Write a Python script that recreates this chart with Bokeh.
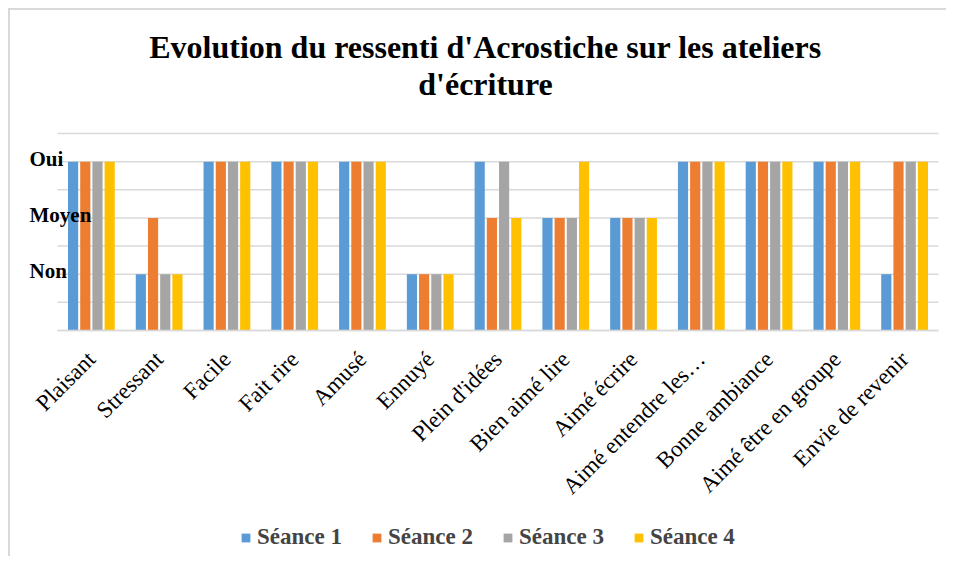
import numpy as np
from bokeh.plotting import figure
from bokeh.models import (ColumnDataSource, Range1d, FixedTicker, Legend, LegendItem, Label, LabelSet)
from bokeh.transform import dodge
from bokeh.embed import file_html
from bokeh.resources import INLINE

categories = ["Plaisant", "Stressant", "Facile", "Fait rire", "Amusé", "Ennuyé",
              "Plein d'idées", "Bien aimé lire", "Aimé écrire", "Aimé entendre les…",
              "Bonne ambiance", "Aimé être en groupe", "Envie de revenir"]
# 1 = Non, 2 = Moyen, 3 = Oui
seance1 = [3, 1, 3, 3, 3, 1, 3, 2, 2, 3, 3, 3, 1]
seance2 = [3, 2, 3, 3, 3, 1, 2, 2, 2, 3, 3, 3, 3]
seance3 = [3, 1, 3, 3, 3, 1, 3, 2, 2, 3, 3, 3, 3]
seance4 = [3, 1, 3, 3, 3, 1, 2, 3, 2, 3, 3, 3, 3]
series_names = ["Séance 1", "Séance 2", "Séance 3", "Séance 4"]
level_values = [1, 2, 3]
level_labels = ["Non", "Moyen", "Oui"]
grid_ticks = [0, 0.5, 1, 1.5, 2, 2.5, 3, 3.5]
title_lines = ["Evolution du ressenti d'Acrostiche sur les ateliers", "d'écriture"]

colors = ["#5B9BD5", "#ED7D31", "#A5A5A5", "#FFC000"]
offsets = [-0.27, -0.09, 0.09, 0.27]
SERIF = "Liberation Serif"

W, H = 938, 548
# plot-area geometry in canvas pixels (the whole canvas is the frame)
PLOT_L, PLOT_R, PLOT_T, PLOT_B = 47, 928, 123, 320
n = len(categories)
ymax = grid_ticks[-1]
ux = (PLOT_R - PLOT_L) / n            # px per category
uy = (PLOT_B - PLOT_T) / ymax         # px per unit
x0 = -0.5 - PLOT_L / ux
x1 = n - 0.5 + (W - PLOT_R) / ux
y1 = PLOT_B / uy
y0 = -(H - PLOT_B) / uy

def xd(px):   # canvas px -> data x
    return x0 + px / ux

def yd(py):   # canvas px -> data y
    return y1 - py / uy

xpos = np.arange(n)
src = ColumnDataSource(dict(x=xpos, s1=seance1, s2=seance2, s3=seance3, s4=seance4))

p = figure(x_range=Range1d(x0, x1), y_range=Range1d(y0, y1),
           width=W, height=H, output_backend="svg", toolbar_location=None,
           min_border_left=0, min_border_right=0, min_border_top=0, min_border_bottom=0,
           styles={"margin-left": "8px", "margin-top": "8px",
                   "border-left": "2px solid #D9D9D9", "border-top": "2px solid #D9D9D9"})
p.outline_line_color = None
p.xgrid.visible = False
p.ygrid.visible = False
p.yaxis.visible = False

# horizontal gridlines over the category span only
p.segment(x0=-0.5, x1=n - 0.5, y0=grid_ticks, y1=grid_ticks, line_color="#D9D9D9",
          line_width=1.5, level="underlay")

renderers = []
for key, col, off in zip(["s1", "s2", "s3", "s4"], colors, offsets):
    r = p.vbar(x=dodge("x", off), top=key, width=0.15, source=src,
               fill_color=col, line_color=None)
    renderers.append(r)

lab_src = ColumnDataSource(dict(y=level_values, text=level_labels))
p.add_layout(LabelSet(x=xd(19), y="y", text="text", source=lab_src, text_align="left",
                      text_baseline="middle", y_offset=3, text_font=SERIF,
                      text_font_size="21px", text_font_style="bold", text_color="#000000"))

xa = p.xaxis[0]
xa.fixed_location = 0
xa.ticker = FixedTicker(ticks=[int(i) for i in xpos])
xa.major_label_overrides = {int(i): c for i, c in zip(xpos, categories)}
xa.bounds = (-0.5, n - 0.5)
xa.axis_line_color = "#D9D9D9"
xa.axis_line_width = 1.5
xa.major_tick_line_color = None
xa.minor_tick_line_color = None
xa.major_label_orientation = 0.785398
xa.major_label_text_font = SERIF
xa.major_label_text_font_size = "23px"
xa.major_label_text_color = "#000000"
xa.major_label_standoff = 19

for line, py in zip(title_lines, [36, 73]):
    p.add_layout(Label(x=xd(475), y=yd(py), text=line, text_align="center",
                       text_baseline="middle", text_font=SERIF, text_font_size="32px",
                       text_font_style="bold", text_color="#000000"))

legend = Legend(items=[LegendItem(label=s, renderers=[r]) for s, r in zip(series_names, renderers)],
                orientation="horizontal", location=(230, 8), glyph_width=11, glyph_height=11,
                label_standoff=6, spacing=29, padding=0, margin=0,
                label_text_font=SERIF, label_text_font_size="23px", label_text_font_style="bold",
                border_line_color=None, background_fill_alpha=0)
p.add_layout(legend, "center")

open("out.html", "w").write(file_html(p, INLINE))
